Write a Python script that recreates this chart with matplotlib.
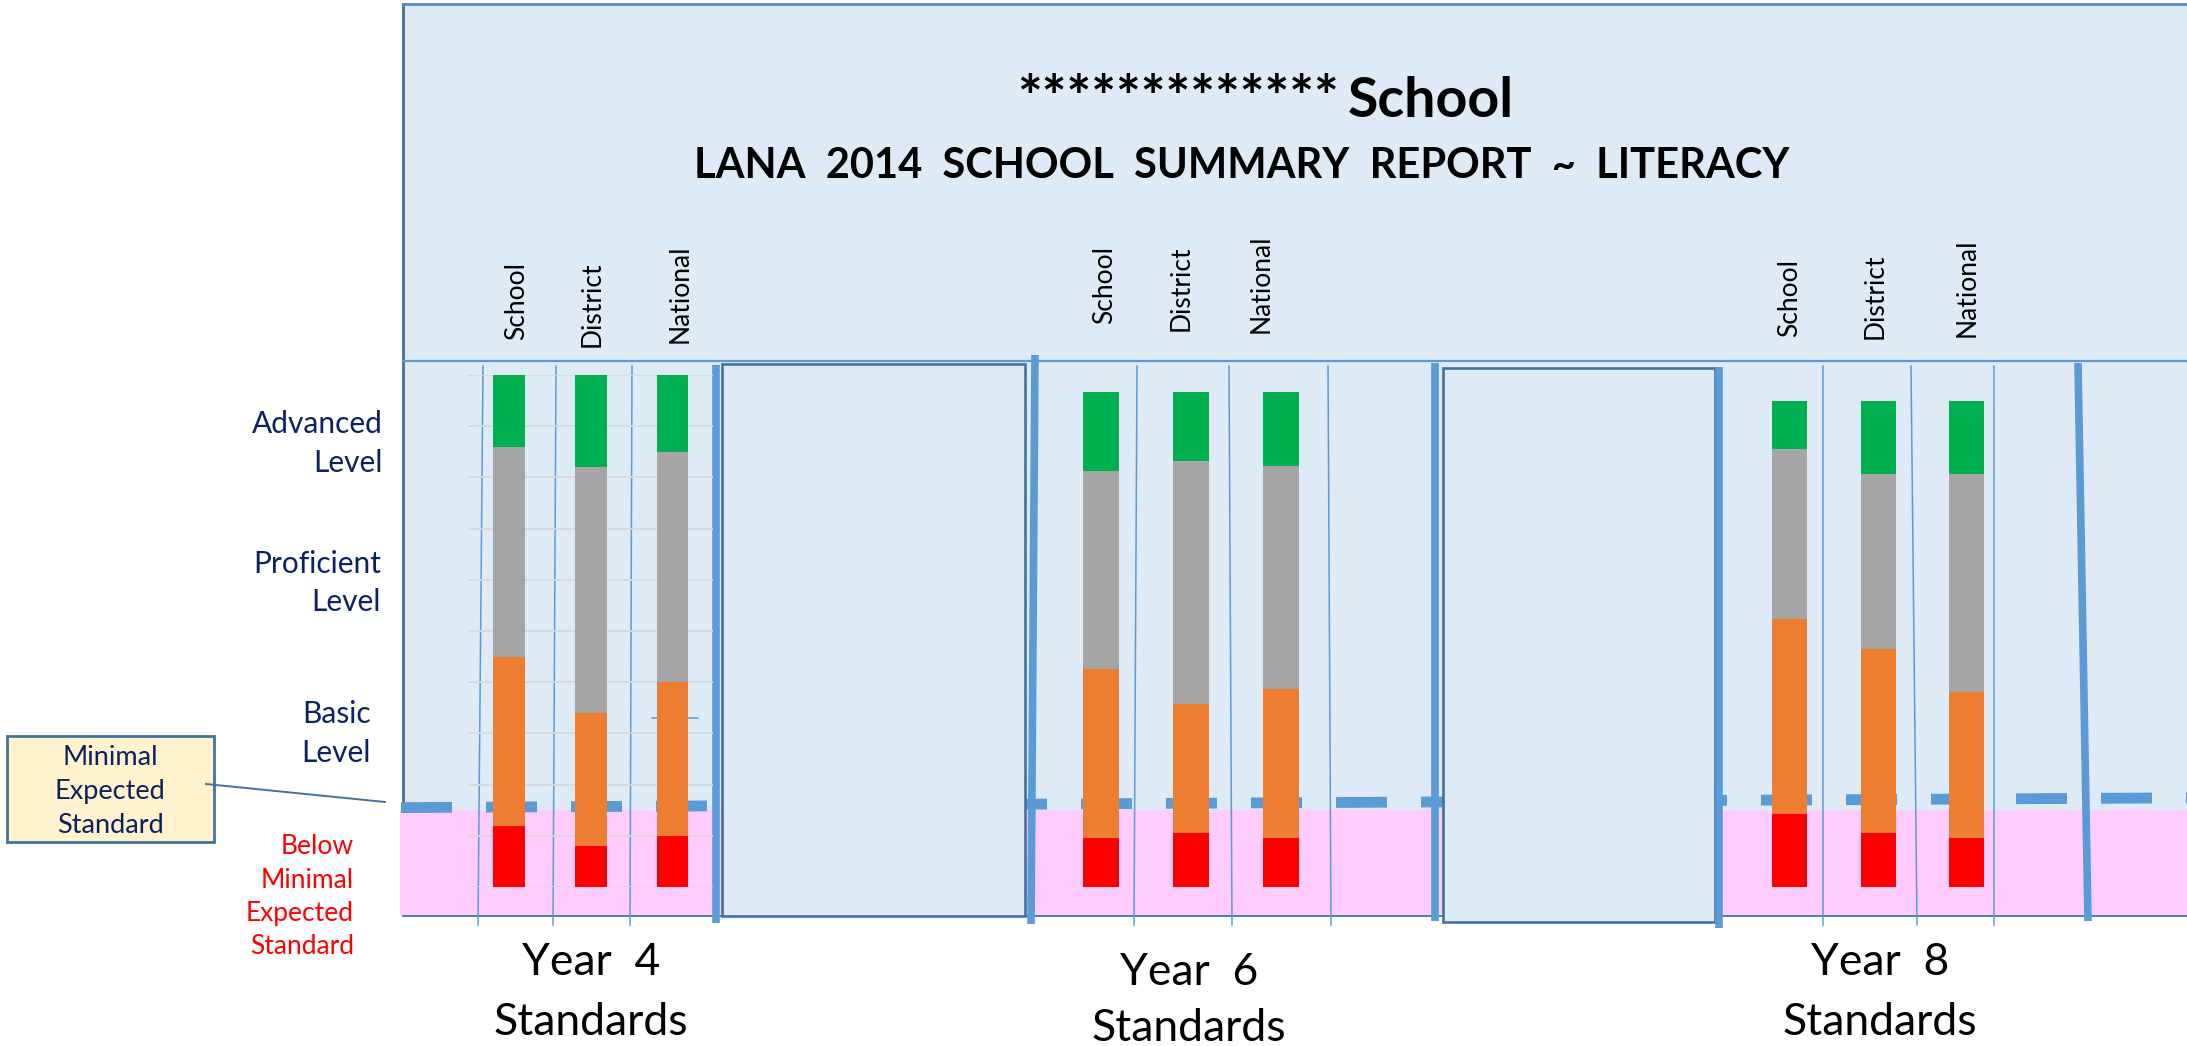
import matplotlib
matplotlib.use("Agg")
import matplotlib.pyplot as plt
from matplotlib.patches import Rectangle
import numpy as np

# ---------------- data ----------------
year_groups = ["Year  4\nStandards", "Year  6\nStandards", "Year  8\nStandards"]
columns = ["School", "District", "National"]
level_labels = ["Advanced\nLevel", "Proficient\nLevel", "Basic\nLevel"]
below_label = "Below\nMinimal\nExpected\nStandard"
callout_label = "Minimal\nExpected\nStandard"
title_stars = "*************"
title_school = "School"
title2 = "LANA  2014  SCHOOL  SUMMARY  REPORT  ~  LITERACY"

# percentages per year group (School, District, National)
below_min = [[12, 8, 10], [10, 11, 10], [15, 11, 10]]
basic = [[33, 26, 30], [34, 26, 30], [40, 38, 30]]
proficient = [[41, 48, 45], [40, 49, 45], [35, 36, 45]]
advanced = [[14, 18, 15], [16, 14, 15], [10, 15, 15]]

seg_colors = ["#FF0000", "#ED7D31", "#A5A5A5", "#00B050"]

# ---------------- layout ----------------
W, H = 2187, 1046
DPI = 100
BG = "#DEEAF6"
PINK = "#FFCCFF"
LBLUE = "#5B9BD5"
DBLUE = "#44729E"
NAVY = "#0B2161"

plt.rcParams['font.family'] = ['Lato', 'DejaVu Sans']

fig = plt.figure(figsize=(W / DPI, H / DPI), dpi=DPI)
fig.patch.set_facecolor("white")

ov = fig.add_axes([0, 0, 1, 1])
ov.set_xlim(0, W)
ov.set_ylim(H, 0)
ov.axis("off")
ov.set_zorder(0)

# background panel
ov.add_patch(Rectangle((403, 4), W - 403 + 5, 912, facecolor=BG, edgecolor="none", zorder=1))
ov.plot([403, 403], [4, 810], color=DBLUE, lw=2.0, zorder=3)
ov.plot([403, W], [4, 4], color="#5F88B8", lw=2.0, zorder=3)
ov.plot([403, W], [361, 361], color=LBLUE, lw=1.6, zorder=3)

# pink zone
ov.add_patch(Rectangle((400, 810), W - 400 + 5, 106, facecolor=PINK, edgecolor="none", zorder=2))
ov.plot([403, W], [916, 916], color="#4A7EBB", lw=1.4, zorder=3)

# minimal expected standard dashed line
for xs in np.arange(401, W, 85):
    xe = min(xs + 51, W)
    ys = 807.6 - (xs - 401) * 9.6 / 1753
    ye = 807.6 - (xe - 401) * 9.6 / 1753
    ov.plot([xs, xe], [ys, ye], color=LBLUE, lw=7.8, solid_capstyle="butt", zorder=4)

# thin vertical separators
thin = [(483, 478), (556, 553), (632, 630),
        (1137, 1134), (1229, 1232), (1328, 1331),
        (1823, 1823), (1911, 1917), (1994, 1994)]
for xt, xb in thin:
    ov.plot([xt, xb], [366, 925], color=LBLUE, lw=1.1, zorder=5)
ov.plot([652, 698], [718, 718], color=LBLUE, lw=1.1, zorder=5)

# boxes between groups
for (x0, y0, x1, y1) in [(722, 364, 1025, 916), (1443, 368, 1715, 922)]:
    ov.add_patch(Rectangle((x0, y0), x1 - x0, y1 - y0, facecolor=BG,
                           edgecolor=DBLUE, lw=1.9, zorder=6))

# thick vertical bars
for (xt, yt, xb, yb) in [(716, 365, 716, 923), (1035, 355, 1031, 924),
                         (1435, 363, 1435, 921), (1719, 367, 1719, 928),
                         (2078, 363, 2088, 921)]:
    ov.plot([xt, xb], [yt, yb], color=LBLUE, lw=5.5, solid_capstyle="butt", zorder=7)

# callout
ov.add_patch(Rectangle((7, 736), 207, 106, facecolor="#FFF2CC", edgecolor=DBLUE,
                       lw=2.0, zorder=6))
ov.plot([206, 385], [784, 802], color=DBLUE, lw=1.4, zorder=7)
for line, yb in zip(callout_label.split("\n"), [765, 799, 833]):
    ov.text(110, yb, line, ha="center", va="baseline", fontsize=19.5, color=NAVY, zorder=8)

# titles (stars drawn larger, like the wide Calibri asterisks of the original)
ov.text(1339, 117, title_stars, ha="right", va="baseline", fontsize=42, fontweight="bold",
        color="black", zorder=8)
ov.text(1348, 117, title_school, ha="left", va="baseline", fontsize=40, fontweight="bold",
        color="black", zorder=8)
ov.text(1242, 178, title2, ha="center", va="baseline", fontsize=30, fontweight="bold",
        color="black", zorder=8)

# left level labels
lvl_pos = [(383, [433, 472]), (381, [573, 611]), (371, [723, 762])]
for lab, (xr, ybs) in zip(level_labels, lvl_pos):
    for line, yb in zip(lab.split("\n"), ybs):
        ov.text(xr, yb, line, ha="right", va="baseline", fontsize=21.5, color=NAVY, zorder=8)
for line, yb in zip(below_label.split("\n"), [854, 888, 921, 954]):
    ov.text(354, yb, line, ha="right", va="baseline", fontsize=19, color="#FF0000", zorder=8)

# column labels (rotated)
col_pos = [[(517, 340), (592, 347), (680, 343)],
           [(1105, 324), (1181, 331), (1261, 333)],
           [(1790, 337), (1875, 339), (1967, 337)]]
for g in range(3):
    for c, name in enumerate(columns):
        x, y = col_pos[g][c]
        ov.text(x, y, name, rotation=90, ha="center", va="bottom", fontsize=19,
                color="black", zorder=8)

# year labels
year_pos = [(591, [975, 1035]), (1189, [985, 1041]), (1880, [975, 1035])]
for lab, (xc, ybs) in zip(year_groups, year_pos):
    for line, yb in zip(lab.split("\n"), ybs):
        ov.text(xc, yb, line, ha="center", va="baseline", fontsize=32, color="black", zorder=8)

# ---------------- stacked bars ----------------
g_left = [468.1, 1056, 1745]
g_space = [81.75, 90, 88.75]
g_top = [375, 392, 400.6]
g_bot = 887
g_barw = [0.39, 0.40, 0.394]

for g in range(3):
    x0 = g_left[g]
    x1 = x0 + 3 * g_space[g]
    ax = fig.add_axes([x0 / W, 1 - g_bot / H, (x1 - x0) / W, (g_bot - g_top[g]) / H])
    ax.set_zorder(2)
    ax.patch.set_alpha(0)
    ax.set_xlim(-0.5, 2.5)
    ax.set_ylim(0, 100)
    for s in ax.spines.values():
        s.set_visible(False)
    ax.tick_params(left=False, bottom=False, labelleft=False, labelbottom=False)
    ax.set_xticks([])
    if g == 0:
        ax.set_yticks(np.arange(0, 101, 10))
        ax.grid(axis="y", color="#D9D9D9", lw=1.3)
        ax.set_axisbelow(True)
    else:
        ax.set_yticks([])
    xs = np.arange(len(columns))
    bottom = np.zeros(3)
    for vals, col in zip([below_min[g], basic[g], proficient[g], advanced[g]], seg_colors):
        v = np.array(vals, dtype=float)
        ax.bar(xs, v, bottom=bottom, width=g_barw[g], color=col, edgecolor="none", zorder=3)
        bottom += v

fig.savefig("out.png", dpi=DPI)
